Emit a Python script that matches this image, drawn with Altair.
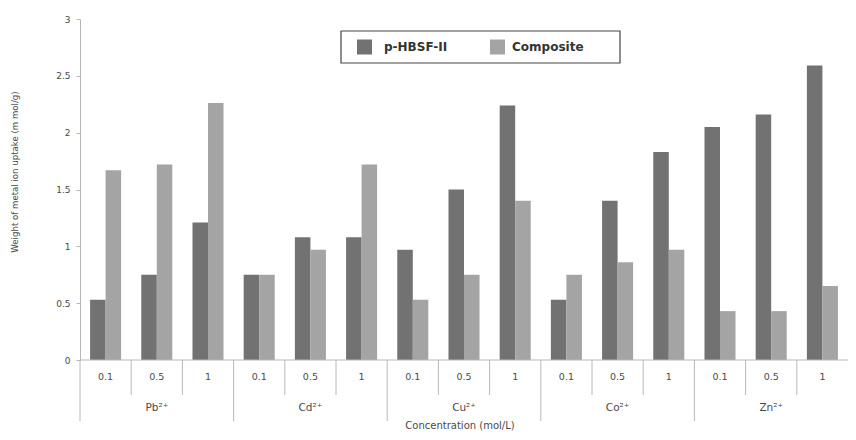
import altair as alt
import pandas as pd

# ---- data ----
ions = ["Pb²⁺", "Cd²⁺", "Cu²⁺", "Co²⁺", "Zn²⁺"]
concs = ["0.1", "0.5", "1"]
series = ["p-HBSF-II", "Composite"]
hbsf = [0.53, 0.75, 1.21, 0.75, 1.08, 1.08, 0.97, 1.50, 2.24, 0.53, 1.40, 1.83, 2.05, 2.16, 2.59]
comp = [1.67, 1.72, 2.26, 0.75, 0.97, 1.72, 0.53, 0.75, 1.40, 0.75, 0.86, 0.97, 0.43, 0.43, 0.65]
y_ticks = [0, 0.5, 1, 1.5, 2, 2.5, 3]
y_title = "Weight of metal ion uptake (m mol/g)"
x_title = "Concentration (mol/L)"

DARK = "#727272"
LIGHT = "#a4a4a4"
AXIS_GRAY = "#b8b8b8"
TEXT = "#4a4a4a"
FONT = "DejaVu Sans"

W, H = 768, 341

keys = [f"{ion}|{c}" for ion in ions for c in concs]

rows = []
for i, k in enumerate(keys):
    rows.append({"key": k, "series": series[0], "value": hbsf[i]})
    rows.append({"key": k, "series": series[1], "value": comp[i]})
bars_df = pd.DataFrame(rows)

cat_df = pd.DataFrame({
    "key": keys,
    "conc": [k.split("|")[1] for k in keys],
    "group_start": [k.split("|")[1] == concs[0] for k in keys],
})
grp_df = pd.DataFrame({"key": [f"{ion}|{concs[1]}" for ion in ions], "ion": ions})
one = pd.DataFrame({"a": [0]})

xscale = alt.Scale(paddingInner=0, paddingOuter=0)

bars = alt.Chart(bars_df).mark_bar().encode(
    x=alt.X("key:N", sort=keys, scale=xscale, axis=None),
    xOffset=alt.XOffset("series:N", sort=series,
                        scale=alt.Scale(paddingInner=0, paddingOuter=0.65)),
    y=alt.Y("value:Q", scale=alt.Scale(domain=[0, 3], nice=False),
            axis=alt.Axis(values=y_ticks, format="~g", grid=False, title=None,
                          domainColor=AXIS_GRAY, tickColor=AXIS_GRAY, tickSize=4,
                          labelPadding=6, labelFont=FONT, labelFontSize=9,
                          labelColor=TEXT)),
    color=alt.Color("series:N", scale=alt.Scale(domain=series, range=[DARK, LIGHT]),
                    legend=None),
)

# x baseline
baseline = alt.Chart(one).mark_rule(color=AXIS_GRAY, strokeWidth=1).encode(
    x=alt.value(0), x2=alt.value(W), y=alt.value(H)
)

minor_rules = alt.Chart(cat_df).transform_filter("!datum.group_start").mark_rule(
    color=AXIS_GRAY, strokeWidth=1
).encode(
    x=alt.X("key:N", sort=keys, scale=xscale, axis=None, bandPosition=0),
    y=alt.value(H), y2=alt.value(H + 35),
)
major_rules = alt.Chart(cat_df).transform_filter("datum.group_start").mark_rule(
    color=AXIS_GRAY, strokeWidth=1
).encode(
    x=alt.X("key:N", sort=keys, scale=xscale, axis=None, bandPosition=0),
    y=alt.value(H), y2=alt.value(H + 61),
)

conc_text = alt.Chart(cat_df).mark_text(
    font=FONT, fontSize=9.5, color=TEXT, baseline="middle"
).encode(
    x=alt.X("key:N", sort=keys, scale=xscale, axis=None),
    y=alt.value(H + 17),
    text="conc:N",
)
grp_text = alt.Chart(grp_df).mark_text(
    font=FONT, fontSize=10.5, color=TEXT, baseline="middle"
).encode(
    x=alt.X("key:N", sort=keys, scale=xscale, axis=None),
    y=alt.value(H + 48),
    text="ion:N",
)

xtitle = alt.Chart(one).mark_text(
    text=x_title, font=FONT, fontSize=10, color=TEXT, baseline="middle"
).encode(x=alt.value(380), y=alt.value(H + 66))

ytitle = alt.Chart(one).mark_text(
    text=y_title, font=FONT,
    fontSize=8.6, color=TEXT, angle=270, baseline="middle"
).encode(x=alt.value(-65), y=alt.value(153))

# legend box
leg_box = alt.Chart(one).mark_rect(fill="white", stroke="#444", strokeWidth=1.2).encode(
    x=alt.value(261), x2=alt.value(540), y=alt.value(12), y2=alt.value(44)
)
leg_sq1 = alt.Chart(one).mark_rect(color=DARK).encode(
    x=alt.value(277), x2=alt.value(292), y=alt.value(20.5), y2=alt.value(35.5)
)
leg_sq2 = alt.Chart(one).mark_rect(color=LIGHT).encode(
    x=alt.value(410), x2=alt.value(425), y=alt.value(20.5), y2=alt.value(35.5)
)
leg_t1 = alt.Chart(one).mark_text(
    text=series[0], font=FONT, fontSize=12, fontWeight="bold", color="#333",
    align="left", baseline="middle"
).encode(x=alt.value(304), y=alt.value(28))
leg_t2 = alt.Chart(one).mark_text(
    text=series[1], font=FONT, fontSize=12, fontWeight="bold", color="#333",
    align="left", baseline="middle"
).encode(x=alt.value(432), y=alt.value(28))

chart = alt.layer(
    bars, baseline, minor_rules, major_rules, conc_text, grp_text, xtitle, ytitle,
    leg_box, leg_sq1, leg_sq2, leg_t1, leg_t2
).properties(
    width=W, height=H,
    autosize=alt.AutoSizeParams(type="none"),
    padding={"left": 72, "top": 11, "right": 0, "bottom": 74},
    background="white",
).configure_view(stroke=None)

chart.save("out.html", embed_options={"renderer": "svg", "actions": False})
